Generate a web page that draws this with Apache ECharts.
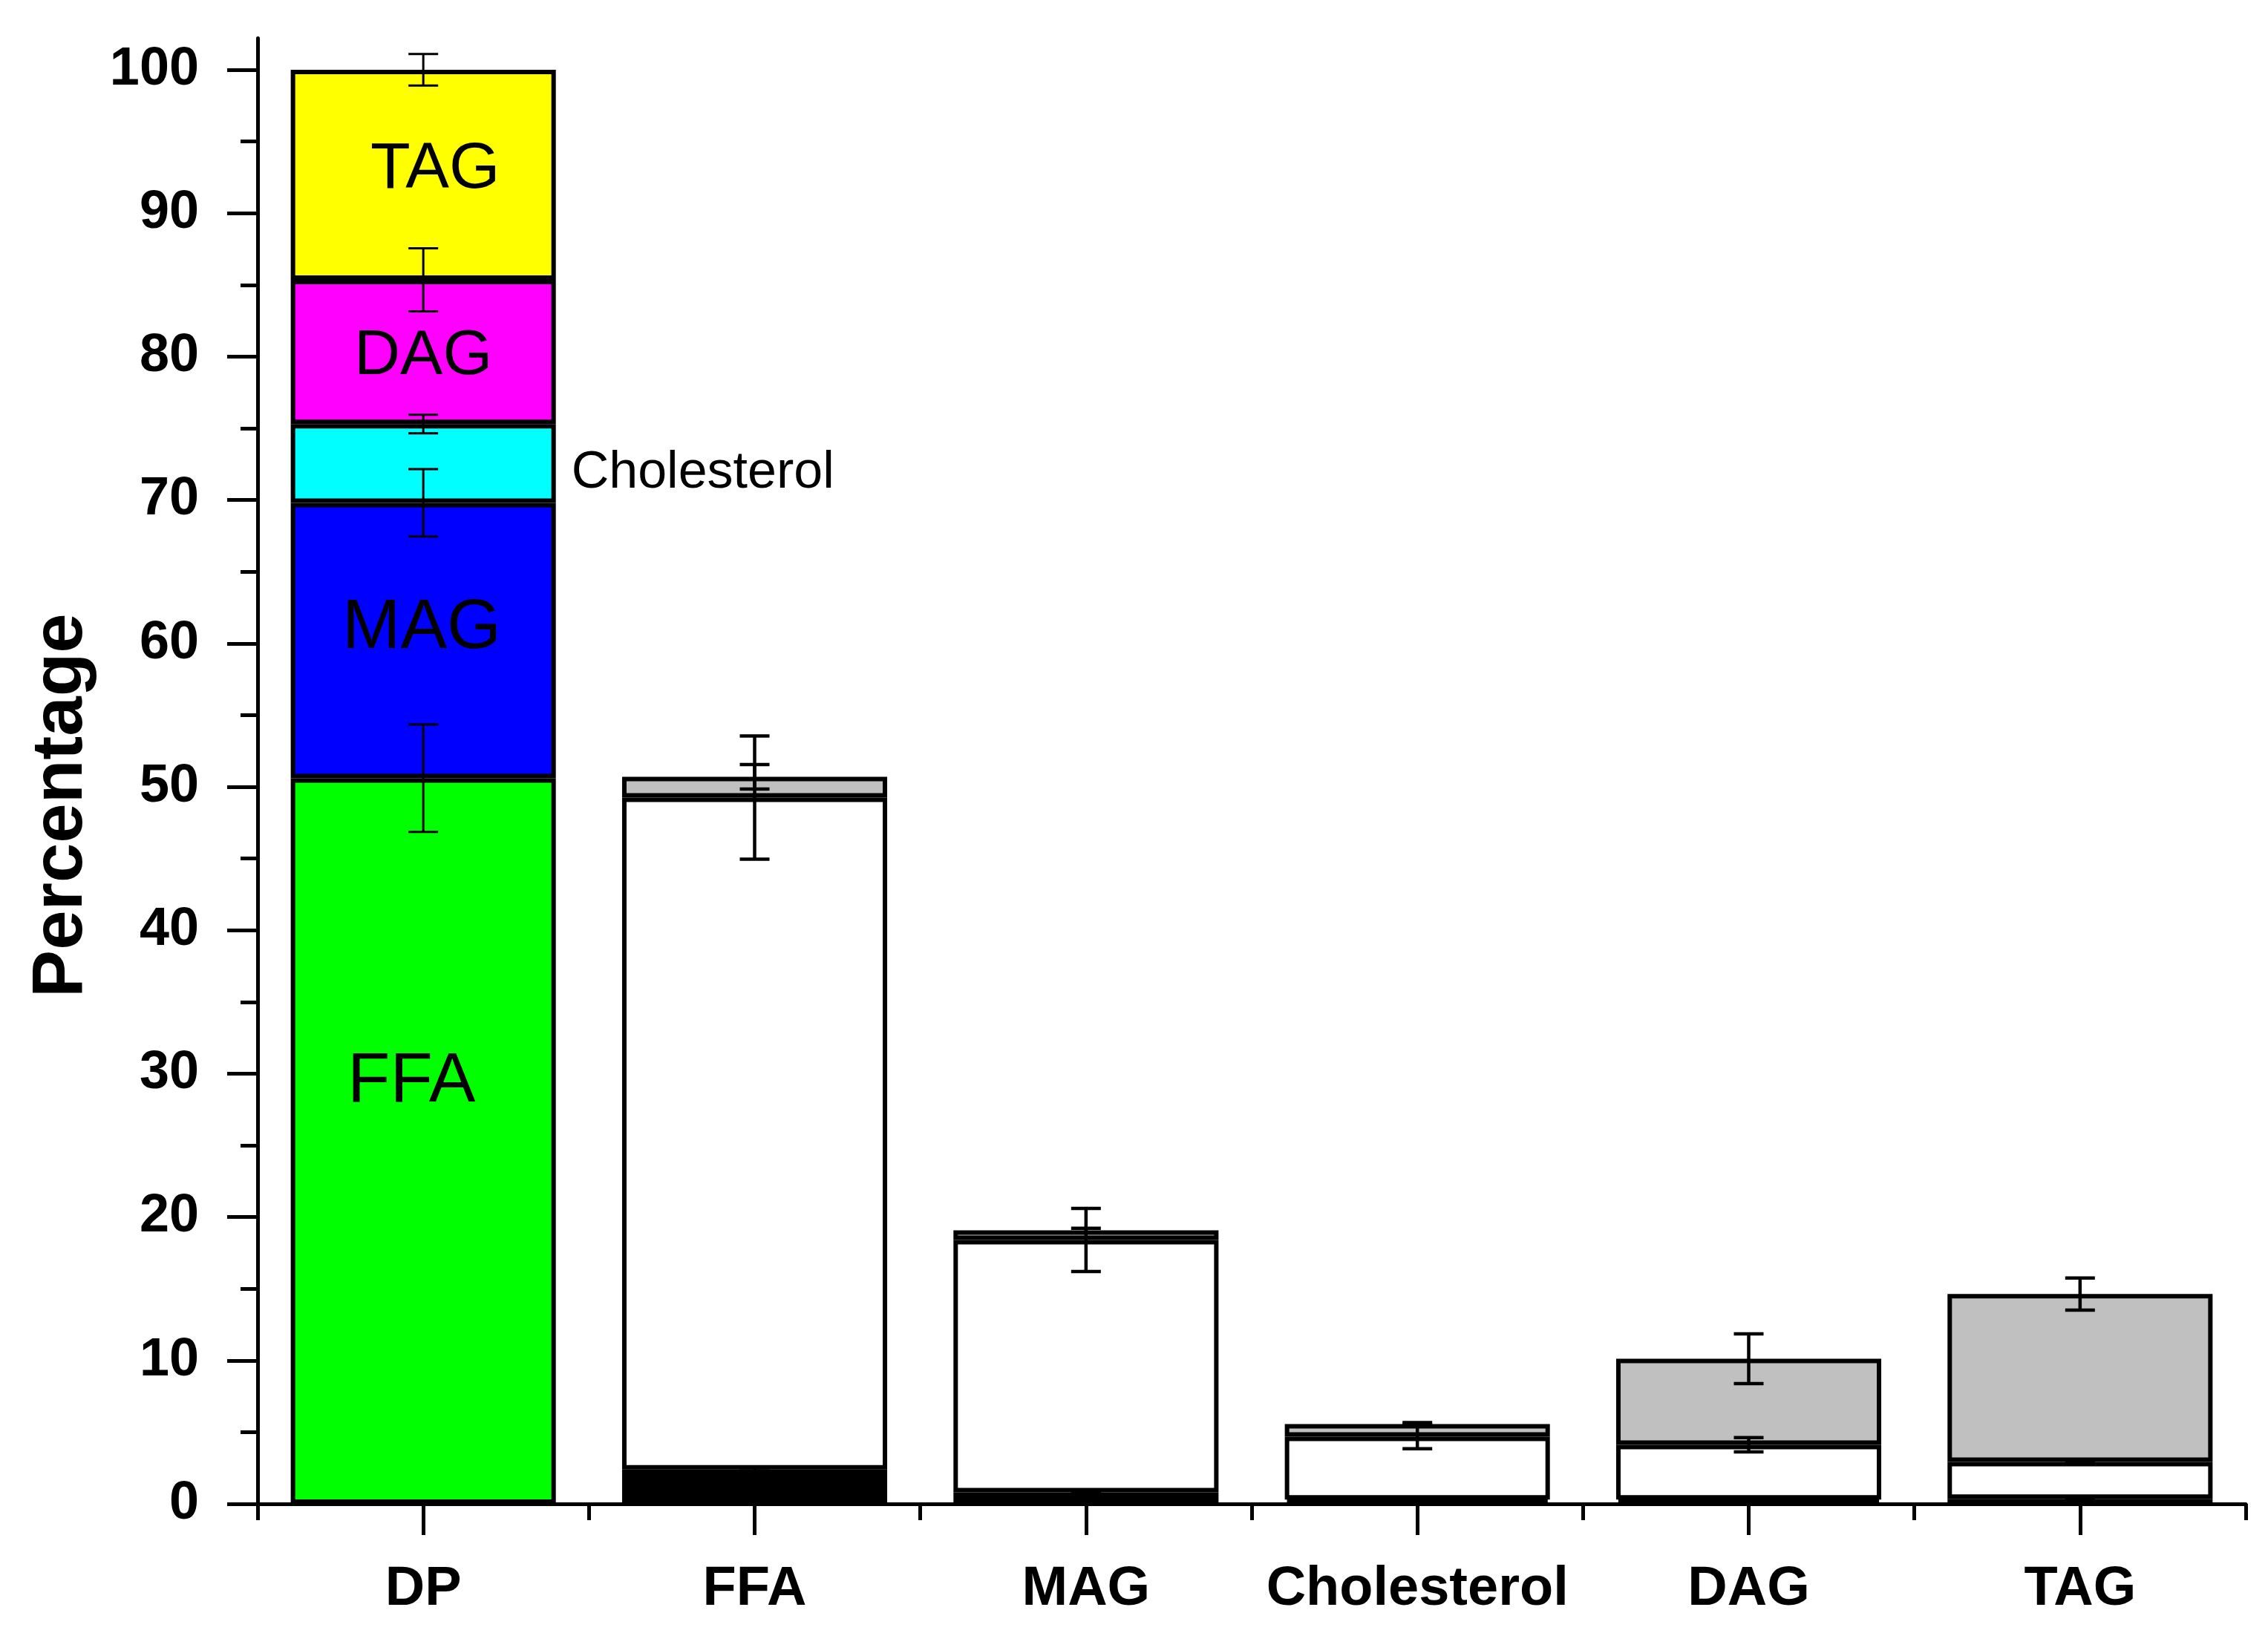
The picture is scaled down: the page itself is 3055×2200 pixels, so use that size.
<!DOCTYPE html>
<html>
<head>
<meta charset="utf-8">
<script src="https://cdn.jsdelivr.net/npm/echarts@6/dist/echarts.min.js"></script>
<style>
html,body{margin:0;padding:0;background:#fff;}
#chart{width:3055px;height:2200px;}
</style>
</head>
<body>
<div id="chart"></div>
<script>
// ---------- DATA ----------
const categories = ['DP', 'FFA', 'MAG', 'Cholesterol', 'DAG', 'TAG'];
// DP composition (bottom to top)
const dpLabels = ['FFA', 'MAG', 'Cholesterol', 'DAG', 'TAG'];
const dpValues = [50.6, 19.2, 5.5, 10.05, 14.65];
const dpErrors = [3.75, 2.35, 0.65, 2.2, 1.1];
// Fractions (categories FFA..TAG), bottom to top: black, white, grey
const blackValues = [2.4, 0.8, 0.3, 0.3, 0.35];
const whiteValues = [46.85, 17.6, 4.39, 3.82, 2.57];
const greyValues = [1.45, 0.67, 0.88, 6.0, 11.71];
const blackErrors = [0.12, 0.08, 0.05, 0.05, 0.1];
const whiteErrors = [4.3, 2.2, 0.85, 0.5, 0.1];
const greyErrors = [0.85, 0.15, 0.1, 1.73, 1.12];
// Axis ticks
const yTicks = [0, 10, 20, 30, 40, 50, 60, 70, 80, 90, 100];
const yMinorTicks = [5, 15, 25, 35, 45, 55, 65, 75, 85, 95];
const yAxisTitle = 'Percentage';

// ---------- STYLE ----------
const FONT = 'Liberation Sans';
const dpColors = ['#00ff00', '#0000ff', '#00ffff', '#ff00ff', '#ffff00'];
const dpLabelStyle = [
  {fontSize: 94, position: 'inside', offset: [-16, -79]},
  {fontSize: 94, position: 'inside', offset: [-2, -16]},
  {fontSize: 70, position: 'right', distance: 21, offset: [0, 13]},
  {fontSize: 86, position: 'inside', offset: [0, 6]},
  {fontSize: 88, position: 'inside', offset: [16, -7]}
];
const fracColors = ['#000000', '#ffffff', '#c0c0c0'];
const BORDER = 6;
const Y_MIN = -0.45, Y_MAX = 102.2;

const chart = echarts.init(document.getElementById('chart'), null, {renderer: 'canvas'});

const series = [];
dpValues.forEach((v, i) => {
  const data = categories.map((c, k) => k === 0 ? {
    value: v,
    label: {
      show: true,
      formatter: dpLabels[i],
      position: dpLabelStyle[i].position,
      distance: dpLabelStyle[i].distance || 5,
      offset: dpLabelStyle[i].offset,
      fontFamily: FONT,
      fontSize: dpLabelStyle[i].fontSize,
      fontWeight: 'normal',
      color: '#000'
    }
  } : '-');
  series.push({
    type: 'bar', name: 'DP ' + dpLabels[i], stack: 'all', barWidth: '80%',
    data: data,
    itemStyle: {color: dpColors[i], borderColor: '#000', borderWidth: BORDER},
    z: 2
  });
});
[blackValues, whiteValues, greyValues].forEach((arr, j) => {
  series.push({
    type: 'bar', name: ['black', 'white', 'grey'][j], stack: 'all', barWidth: '80%',
    data: ['-'].concat(arr),
    itemStyle: {color: fracColors[j], borderColor: '#000', borderWidth: BORDER},
    z: 2
  });
});

// Error bar data: [categoryIndex, center, error]
const errDP = [];
let cum = 0;
dpValues.forEach((v, i) => { cum += v; errDP.push([0, cum, dpErrors[i]]); });
const errFrac = [];
blackValues.forEach((b, k) => {
  const w = b + whiteValues[k];
  const g = w + greyValues[k];
  errFrac.push([k + 1, b, blackErrors[k]]);
  errFrac.push([k + 1, w, whiteErrors[k]]);
  errFrac.push([k + 1, g, greyErrors[k]]);
});

function makeErr(lw) {
  return function (params, api) {
    const x = api.value(0), c = api.value(1), e = api.value(2);
    const top = api.coord([x, c + e]);
    const bot = api.coord([x, c - e]);
    const hw = 20;
    const style = {stroke: '#000', lineWidth: lw, fill: null};
    return {
      type: 'group',
      children: [
        {type: 'line', shape: {x1: top[0], y1: top[1], x2: bot[0], y2: bot[1]}, style: style},
        {type: 'line', shape: {x1: top[0] - hw, y1: top[1], x2: top[0] + hw, y2: top[1]}, style: style},
        {type: 'line', shape: {x1: bot[0] - hw, y1: bot[1], x2: bot[0] + hw, y2: bot[1]}, style: style}
      ]
    };
  };
}
series.push({type: 'custom', name: 'errDP', data: errDP, renderItem: makeErr(3), encode: {x: 0, y: 1}, z: 5, silent: true});
series.push({type: 'custom', name: 'errFrac', data: errFrac, renderItem: makeErr(4.5), encode: {x: 0, y: 1}, z: 5, silent: true});

const option = {
  animation: false,
  backgroundColor: '#fff',
  grid: {left: 347, right: 30, top: 51.5, bottom: 165.3, containLabel: false},
  xAxis: [
    {
      type: 'category', data: categories, position: 'bottom', boundaryGap: true,
      axisLine: {show: true, lineStyle: {color: '#000', width: 5}},
      axisTick: {show: true, alignWithLabel: true, interval: 0, length: 42, lineStyle: {color: '#000', width: 5}},
      axisLabel: {show: true, interval: 0, margin: 70, fontFamily: FONT, fontWeight: 'bold', fontSize: 74, color: '#000'},
      splitLine: {show: false}
    },
    {
      type: 'category', data: categories, position: 'bottom', boundaryGap: true,
      axisLine: {show: false},
      axisTick: {show: true, interval: 0, length: 22, lineStyle: {color: '#000', width: 5}},
      axisLabel: {show: false, interval: 0},
      splitLine: {show: false}
    }
  ],
  yAxis: [
    {
      type: 'value', min: Y_MIN, max: Y_MAX, position: 'left',
      name: yAxisTitle, nameLocation: 'middle', nameRotate: 90, nameGap: 215,
      nameTextStyle: {fontFamily: FONT, fontWeight: 'bold', fontSize: 96, color: '#000', padding: [0, 84, 0, 0]},
      axisLine: {show: true, lineStyle: {color: '#000', width: 5}},
      axisTick: {show: true, length: 41, customValues: yTicks, lineStyle: {color: '#000', width: 5}},
      axisLabel: {show: true, margin: 79, customValues: yTicks, fontFamily: FONT, fontWeight: 'bold', fontSize: 72, color: '#000'},
      splitLine: {show: false}
    },
    {
      type: 'value', min: Y_MIN, max: Y_MAX, position: 'left',
      axisLine: {show: false},
      axisTick: {show: true, length: 23, customValues: yMinorTicks, lineStyle: {color: '#000', width: 5}},
      axisLabel: {show: false, customValues: yMinorTicks},
      splitLine: {show: false}
    }
  ],
  series: series
};
chart.setOption(option);
</script>
</body>
</html>
